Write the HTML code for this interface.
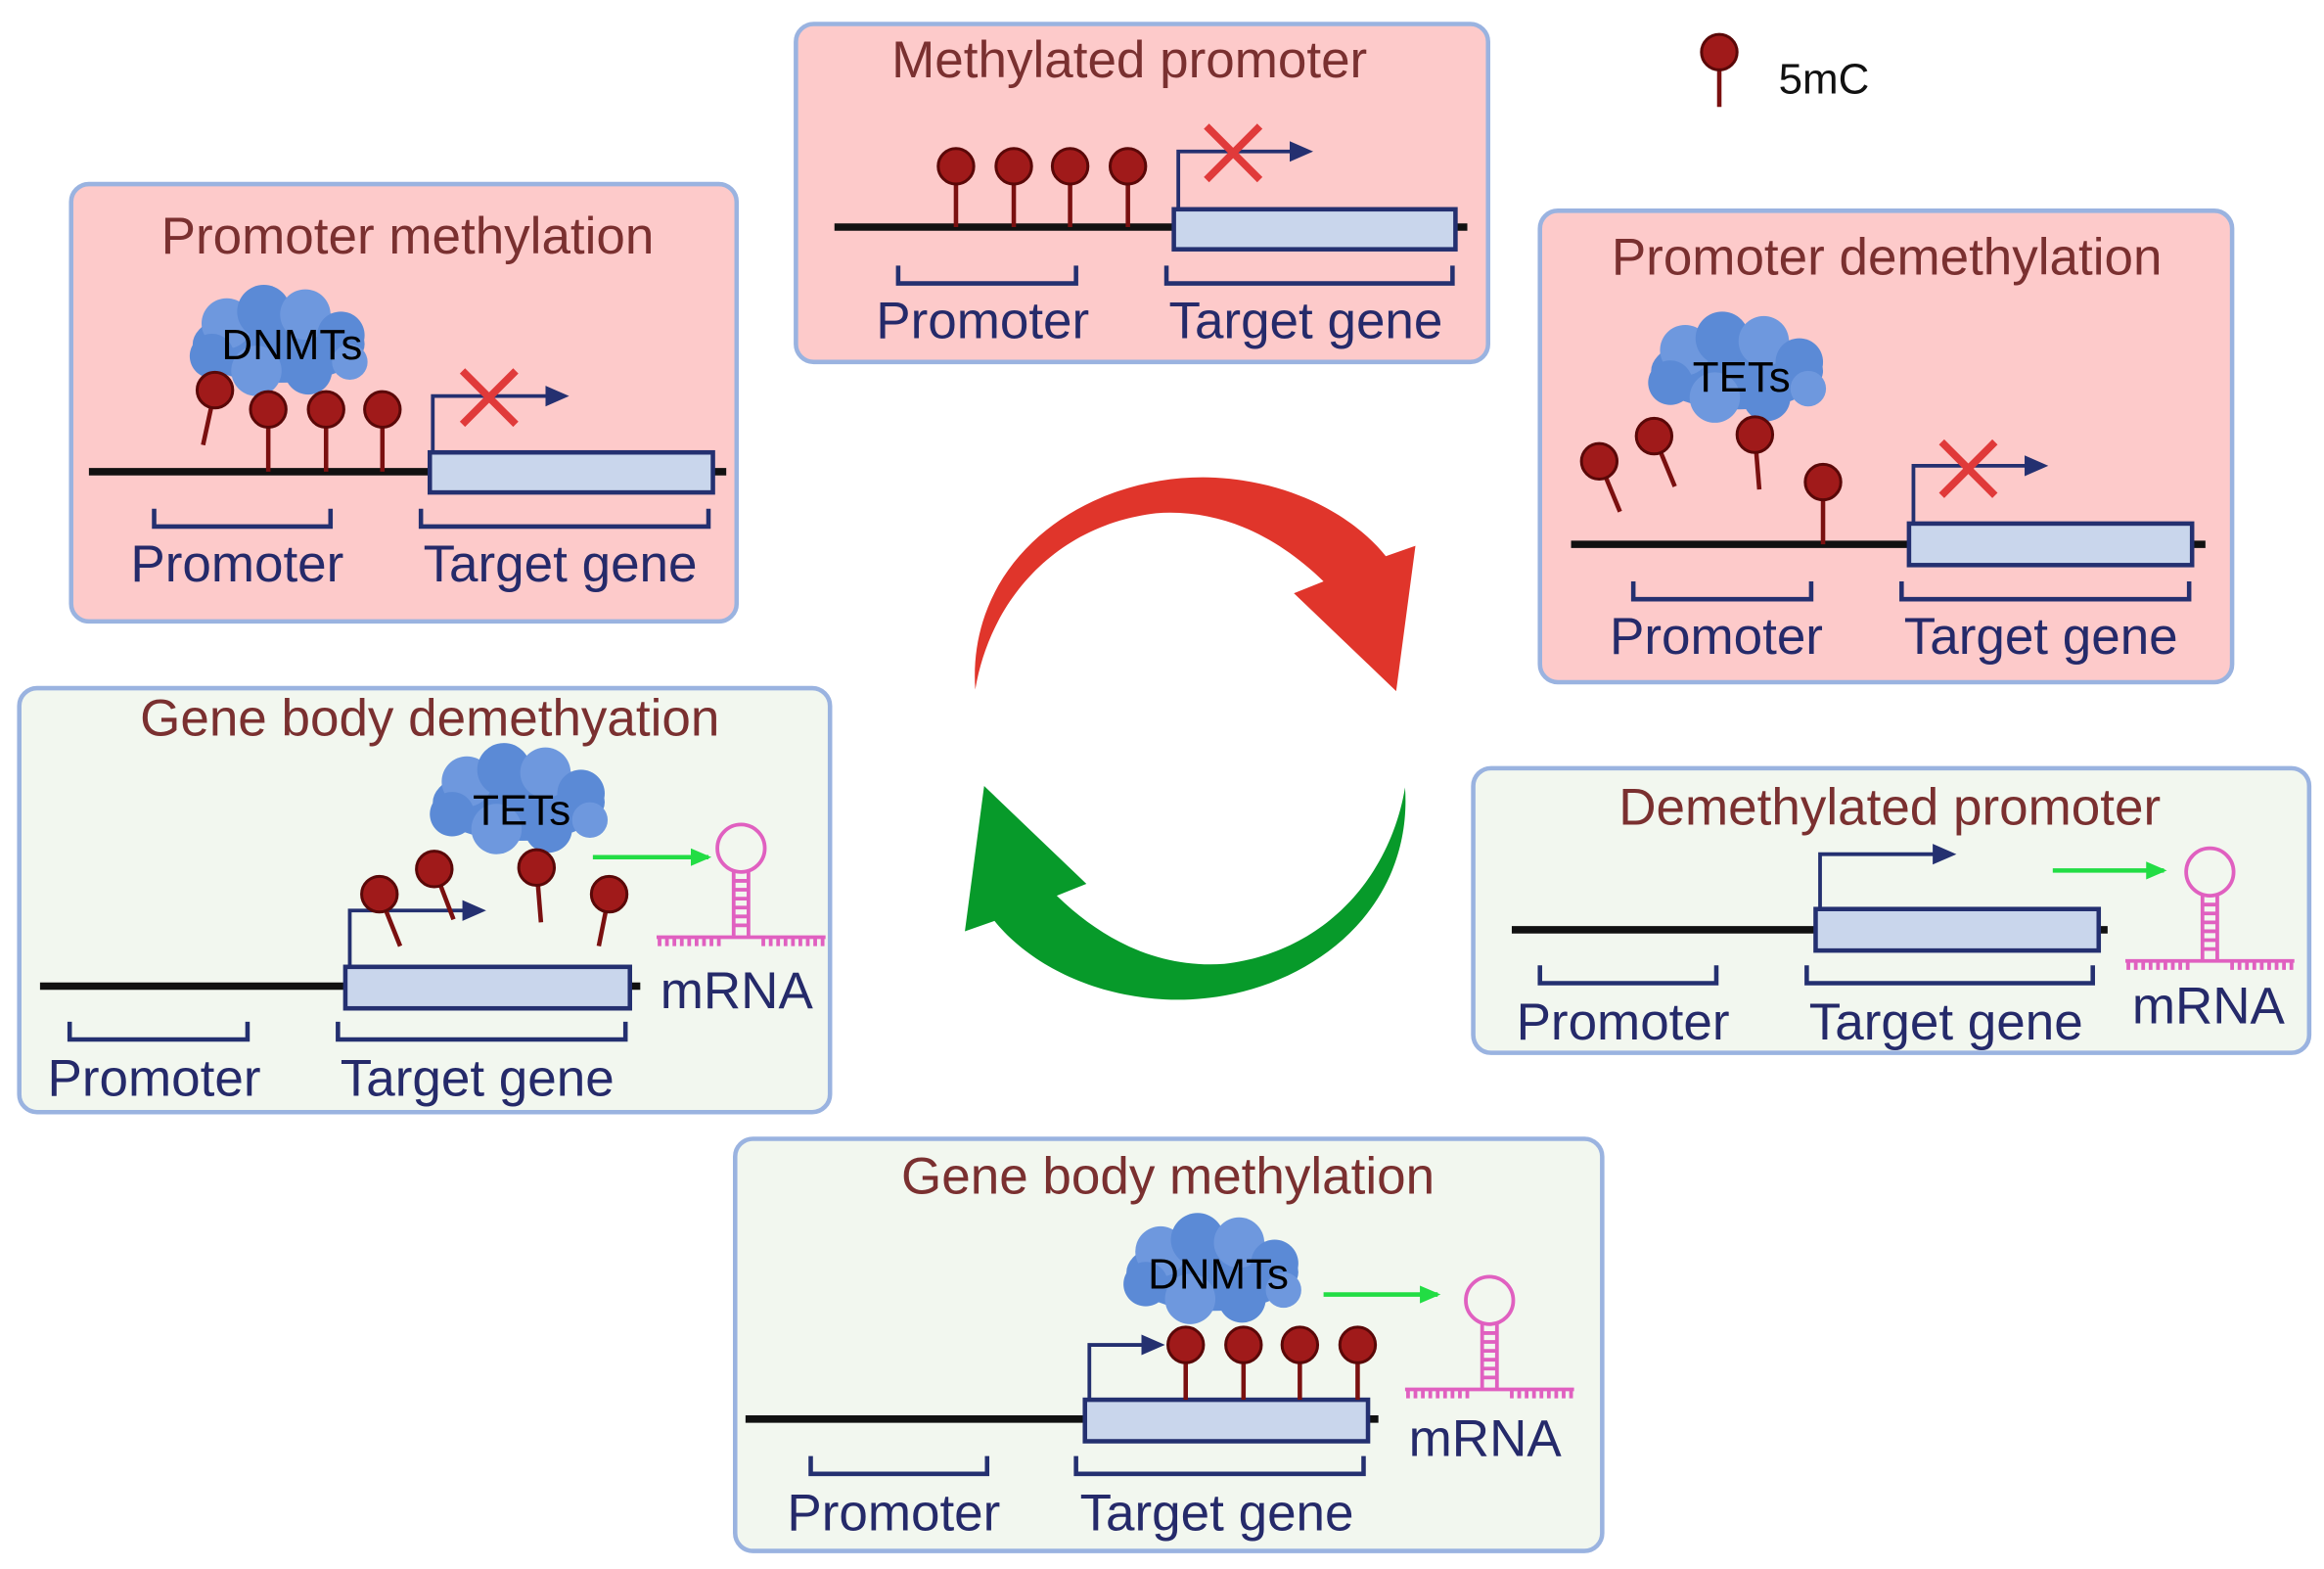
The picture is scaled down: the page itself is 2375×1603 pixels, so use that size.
<!DOCTYPE html>
<html><head><meta charset="utf-8"><style>
html,body{margin:0;padding:0;background:#fff}
svg{display:block}
text{font-family:"Liberation Sans",sans-serif}
.t{fill:#7a3030;font-size:35px;text-anchor:middle}
.l{fill:#252a6a;font-size:35px;text-anchor:middle}
.dna{stroke:#111;stroke-width:5}
.gene{fill:#c9d6ec;stroke:#243070;stroke-width:3}
.br{fill:none;stroke:#243070;stroke-width:3}
.ar{fill:none;stroke:#243070;stroke-width:2.5}
.st{stroke:#7a1010;stroke-width:3}
.hd{fill:#a01a1a;stroke:#5a0808;stroke-width:2}
.x{stroke:#e03a3a;stroke-width:5}
.g{stroke:#22dd44;stroke-width:3}
.rn{stroke:#e060c0;stroke-width:2.5;fill:none}
</style></head><body>
<svg width="2375" height="1603" viewBox="0 0 1568 1058" xmlns="http://www.w3.org/2000/svg">
<defs>
<marker id="ah" markerWidth="18" markerHeight="18" refX="2" refY="9" orient="auto" markerUnits="userSpaceOnUse"><path d="M0,2L16,9L0,16Z" fill="#243070"/></marker>
<marker id="ag" markerWidth="16" markerHeight="16" refX="12" refY="8" orient="auto" markerUnits="userSpaceOnUse"><path d="M0,2L14,8L0,14Z" fill="#22dd44"/></marker>
<g id="cloud">
<ellipse cx="0" cy="0" rx="58" ry="26" fill="#5b8ad6"/>
<circle cx="-35" cy="-14" r="17" fill="#6e98de"/><circle cx="-10" cy="-22" r="18" fill="#5b8ad6"/>
<circle cx="18" cy="-20" r="17" fill="#6e98de"/><circle cx="42" cy="-6" r="16" fill="#5b8ad6"/>
<circle cx="-45" cy="8" r="15" fill="#5b8ad6"/><circle cx="-15" cy="18" r="17" fill="#6e98de"/>
<circle cx="20" cy="18" r="16" fill="#5b8ad6"/><circle cx="48" cy="12" r="12" fill="#6e98de"/>
</g>
<g id="hp">
<circle cx="0" cy="-60" r="16" class="rn"/>
<line x1="-5" y1="-45" x2="-5" y2="0" class="rn"/><line x1="5" y1="-45" x2="5" y2="0" class="rn"/>
<path d="M-5,-38h10M-5,-32h10M-5,-26h10M-5,-20h10M-5,-14h10M-5,-8h10" class="rn" stroke-width="1.5"/>
<line x1="-57" y1="0" x2="57" y2="0" class="rn"/>
<path d="M-55,0v6M-50,0v6M-45,0v6M-40,0v6M-35,0v6M-30,0v6M-25,0v6M-20,0v6M-15,0v6M15,0v6M20,0v6M25,0v6M30,0v6M35,0v6M40,0v6M45,0v6M50,0v6M55,0v6" class="rn" stroke-width="1.5"/>
</g>
</defs>

<!-- Panel 1 -->
<rect x="48" y="124" width="449" height="295" rx="12" fill="#fdcaca" stroke="#9ab3e0" stroke-width="3"/>
<text class="t" x="275" y="171">Promoter methylation</text>
<line class="dna" x1="60" y1="318" x2="490" y2="318"/>
<rect class="gene" x="290" y="305" width="191" height="27"/>
<use href="#cloud" x="188" y="232"/>
<text x="197" y="242" font-size="29" text-anchor="middle" fill="#000">DNMTs</text>
<line class="st" x1="145" y1="263" x2="137" y2="300"/><circle class="hd" cx="145" cy="263" r="12"/>
<line class="st" x1="181" y1="276" x2="181" y2="318"/><circle class="hd" cx="181" cy="276" r="12"/>
<line class="st" x1="220" y1="276" x2="220" y2="318"/><circle class="hd" cx="220" cy="276" r="12"/>
<line class="st" x1="258" y1="276" x2="258" y2="318"/><circle class="hd" cx="258" cy="276" r="12"/>
<path class="ar" d="M292,305V267H370" marker-end="url(#ah)"/>
<path class="x" d="M312,250L348,286M348,250L312,286"/>
<path class="br" d="M104,343v12h119v-12M284,343v12h194v-12"/>
<text class="l" x="160" y="392">Promoter</text><text class="l" x="378" y="392">Target gene</text>

<!-- Panel 2 -->
<rect x="537" y="16" width="467" height="228" rx="12" fill="#fdcaca" stroke="#9ab3e0" stroke-width="3"/>
<text class="t" x="762" y="52">Methylated promoter</text>
<line class="dna" x1="563" y1="153" x2="990" y2="153"/>
<rect class="gene" x="792" y="141" width="190" height="27"/>
<line class="st" x1="645" y1="112" x2="645" y2="153"/><circle class="hd" cx="645" cy="112" r="12"/>
<line class="st" x1="684" y1="112" x2="684" y2="153"/><circle class="hd" cx="684" cy="112" r="12"/>
<line class="st" x1="722" y1="112" x2="722" y2="153"/><circle class="hd" cx="722" cy="112" r="12"/>
<line class="st" x1="761" y1="112" x2="761" y2="153"/><circle class="hd" cx="761" cy="112" r="12"/>
<path class="ar" d="M795,141V102H872" marker-end="url(#ah)"/>
<path class="x" d="M814,85L850,121M850,85L814,121"/>
<path class="br" d="M606,179v12h120v-12M787,179v12h193v-12"/>
<text class="l" x="663" y="228">Promoter</text><text class="l" x="881" y="228">Target gene</text>

<!-- legend -->
<line class="st" x1="1160" y1="35" x2="1160" y2="72"/><circle class="hd" cx="1160" cy="35" r="12"/>
<text x="1200" y="63" font-size="29" fill="#111">5mC</text>

<!-- Panel 3 -->
<rect x="1039" y="142" width="467" height="318" rx="12" fill="#fdcaca" stroke="#9ab3e0" stroke-width="3"/>
<text class="t" x="1273" y="185">Promoter demethylation</text>
<line class="dna" x1="1060" y1="367" x2="1488" y2="367"/>
<rect class="gene" x="1288" y="353" width="191" height="28"/>
<use href="#cloud" x="1172" y="250"/>
<text x="1175" y="264" font-size="29" text-anchor="middle" fill="#000">TETs</text>
<line class="st" x1="1079" y1="311" x2="1093" y2="345"/><circle class="hd" cx="1079" cy="311" r="12"/>
<line class="st" x1="1116" y1="294" x2="1130" y2="328"/><circle class="hd" cx="1116" cy="294" r="12"/>
<line class="st" x1="1184" y1="293" x2="1187" y2="330"/><circle class="hd" cx="1184" cy="293" r="12"/>
<line class="st" x1="1230" y1="325" x2="1230" y2="367"/><circle class="hd" cx="1230" cy="325" r="12"/>
<path class="ar" d="M1291,353V314H1368" marker-end="url(#ah)"/>
<path class="x" d="M1310,298L1346,334M1346,298L1310,334"/>
<path class="br" d="M1102,392v12h120v-12M1283,392v12h194v-12"/>
<text class="l" x="1158" y="441">Promoter</text><text class="l" x="1377" y="441">Target gene</text>

<!-- Panel 5 -->
<rect x="13" y="464" width="547" height="286" rx="12" fill="#f2f7ef" stroke="#9ab3e0" stroke-width="3"/>
<text class="t" x="290" y="496">Gene body demethyation</text>
<line class="dna" x1="27" y1="665" x2="432" y2="665"/>
<rect class="gene" x="233" y="652" width="192" height="28"/>
<use href="#cloud" x="350" y="541"/>
<text x="352" y="556" font-size="29" text-anchor="middle" fill="#000">TETs</text>
<path class="ar" d="M236,652V614H314" marker-end="url(#ah)"/>
<line class="st" x1="256" y1="603" x2="270" y2="638"/><circle class="hd" cx="256" cy="603" r="12"/>
<line class="st" x1="293" y1="586" x2="306" y2="620"/><circle class="hd" cx="293" cy="586" r="12"/>
<line class="st" x1="362" y1="585" x2="365" y2="622"/><circle class="hd" cx="362" cy="585" r="12"/>
<line class="st" x1="411" y1="603" x2="404" y2="638"/><circle class="hd" cx="411" cy="603" r="12"/>
<line class="g" x1="400" y1="578" x2="478" y2="578" marker-end="url(#ag)"/>
<use href="#hp" x="500" y="632"/>
<text class="l" x="497" y="680">mRNA</text>
<path class="br" d="M47,689v12h120v-12M228,689v12h194v-12"/>
<text class="l" x="104" y="739">Promoter</text><text class="l" x="322" y="739">Target gene</text>

<!-- Panel 6 -->
<rect x="994" y="518" width="564" height="192" rx="12" fill="#f2f7ef" stroke="#9ab3e0" stroke-width="3"/>
<text class="t" x="1275" y="556">Demethylated promoter</text>
<line class="dna" x1="1020" y1="627" x2="1422" y2="627"/>
<rect class="gene" x="1225" y="613" width="191" height="28"/>
<path class="ar" d="M1228,613V576H1306" marker-end="url(#ah)"/>
<line class="g" x1="1385" y1="587" x2="1460" y2="587" marker-end="url(#ag)"/>
<use href="#hp" x="1491" y="648"/>
<text class="l" x="1490" y="690">mRNA</text>
<path class="br" d="M1039,651v12h119v-12M1219,651v12h193v-12"/>
<text class="l" x="1095" y="701">Promoter</text><text class="l" x="1313" y="701">Target gene</text>

<!-- Panel 7 -->
<rect x="496" y="768" width="585" height="278" rx="12" fill="#f2f7ef" stroke="#9ab3e0" stroke-width="3"/>
<text class="t" x="788" y="805">Gene body methylation</text>
<line class="dna" x1="503" y1="957" x2="930" y2="957"/>
<rect class="gene" x="732" y="944" width="191" height="28"/>
<use href="#cloud" x="818" y="858"/>
<text x="822" y="869" font-size="29" text-anchor="middle" fill="#000">DNMTs</text>
<path class="ar" d="M735,944V907H772" marker-end="url(#ah)"/>
<line class="st" x1="800" y1="907" x2="800" y2="944"/><circle class="hd" cx="800" cy="907" r="12"/>
<line class="st" x1="839" y1="907" x2="839" y2="944"/><circle class="hd" cx="839" cy="907" r="12"/>
<line class="st" x1="877" y1="907" x2="877" y2="944"/><circle class="hd" cx="877" cy="907" r="12"/>
<line class="st" x1="916" y1="907" x2="916" y2="944"/><circle class="hd" cx="916" cy="907" r="12"/>
<line class="g" x1="893" y1="873" x2="970" y2="873" marker-end="url(#ag)"/>
<use href="#hp" x="1005" y="937"/>
<text class="l" x="1002" y="982">mRNA</text>
<path class="br" d="M547,982v12h119v-12M726,982v12h194v-12"/>
<text class="l" x="603" y="1032">Promoter</text><text class="l" x="821" y="1032">Target gene</text>

<!-- cycle arrows -->
<path d="M658,465 C652,375 735,318 820,322 C875,325 915,350 935,375 L955,368 L942,466 L873,400 L893,392 C860,360 822,343 780,346 C712,354 668,405 658,465 Z" fill="#e0352b"/>
<path d="M658,465 C652,375 735,318 820,322 C875,325 915,350 935,375 L955,368 L942,466 L873,400 L893,392 C860,360 822,343 780,346 C712,354 668,405 658,465 Z" fill="#079a2a" transform="rotate(180 803 498)"/>
</svg>
</body></html>
